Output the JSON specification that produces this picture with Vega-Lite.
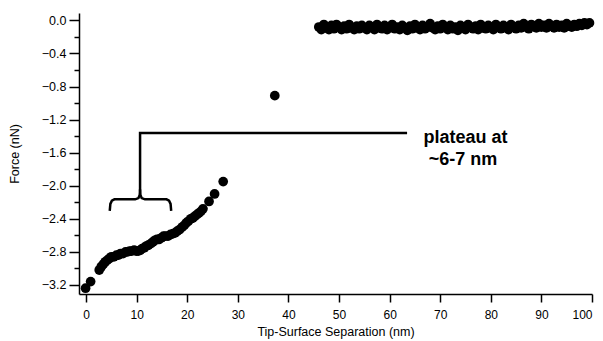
{
  "$schema": "https://vega.github.io/schema/vega-lite/v6.json",
  "autosize": "none",
  "width": 513,
  "height": 281,
  "padding": {"left": 79, "top": 13, "right": 11, "bottom": 47},
  "background": "white",
  "config": {
    "view": {"stroke": null},
    "font": "Liberation Sans",
    "axis": {
      "domainColor": "black", "tickColor": "black", "labelColor": "black", "titleColor": "black",
      "domainWidth": 1.5, "tickWidth": 1.5, "grid": false,
      "labelFont": "Liberation Sans", "titleFont": "Liberation Sans", "titleFontWeight": "normal"
    }
  },
  "datasets": {
    "pts": [
      {"x": -0.1, "y": -3.24}, {"x": 0.9, "y": -3.16}, {"x": 2.6, "y": -3.02}, {"x": 3.0, "y": -2.98},
      {"x": 3.4, "y": -2.95}, {"x": 3.8, "y": -2.92}, {"x": 4.2, "y": -2.9}, {"x": 4.6, "y": -2.88},
      {"x": 5.0, "y": -2.86}, {"x": 5.5, "y": -2.86}, {"x": 6.0, "y": -2.84}, {"x": 6.4, "y": -2.84},
      {"x": 6.8, "y": -2.82}, {"x": 7.3, "y": -2.82}, {"x": 7.8, "y": -2.8}, {"x": 8.2, "y": -2.8},
      {"x": 8.6, "y": -2.79}, {"x": 9.0, "y": -2.79}, {"x": 9.5, "y": -2.78}, {"x": 9.9, "y": -2.79},
      {"x": 10.3, "y": -2.79}, {"x": 10.7, "y": -2.78}, {"x": 11.1, "y": -2.76}, {"x": 11.5, "y": -2.75},
      {"x": 11.9, "y": -2.73}, {"x": 12.3, "y": -2.72}, {"x": 12.8, "y": -2.7}, {"x": 13.2, "y": -2.68},
      {"x": 13.6, "y": -2.66}, {"x": 14.0, "y": -2.65}, {"x": 14.4, "y": -2.65}, {"x": 14.9, "y": -2.63},
      {"x": 15.3, "y": -2.61}, {"x": 15.7, "y": -2.61}, {"x": 16.2, "y": -2.61}, {"x": 16.7, "y": -2.59},
      {"x": 17.2, "y": -2.58}, {"x": 17.6, "y": -2.57}, {"x": 18.0, "y": -2.55}, {"x": 18.5, "y": -2.53},
      {"x": 19.0, "y": -2.5}, {"x": 19.4, "y": -2.48}, {"x": 19.8, "y": -2.45}, {"x": 20.2, "y": -2.43},
      {"x": 20.7, "y": -2.4}, {"x": 21.1, "y": -2.39}, {"x": 21.5, "y": -2.37}, {"x": 21.9, "y": -2.35},
      {"x": 22.3, "y": -2.33}, {"x": 22.7, "y": -2.31}, {"x": 23.1, "y": -2.28}, {"x": 24.3, "y": -2.19},
      {"x": 25.4, "y": -2.1}, {"x": 27.1, "y": -1.95}, {"x": 37.3, "y": -0.91},
      {"x": 46.0, "y": -0.08}, {"x": 46.5, "y": -0.11}, {"x": 47.0, "y": -0.05}, {"x": 47.5, "y": -0.09},
      {"x": 48.0, "y": -0.11}, {"x": 48.5, "y": -0.06}, {"x": 49.0, "y": -0.1}, {"x": 49.5, "y": -0.05},
      {"x": 50.0, "y": -0.08}, {"x": 50.5, "y": -0.11}, {"x": 51.0, "y": -0.07}, {"x": 51.5, "y": -0.1},
      {"x": 52.0, "y": -0.05}, {"x": 52.5, "y": -0.09}, {"x": 53.0, "y": -0.11}, {"x": 53.5, "y": -0.07},
      {"x": 54.0, "y": -0.1}, {"x": 54.5, "y": -0.06}, {"x": 55.0, "y": -0.09}, {"x": 55.5, "y": -0.11},
      {"x": 56.0, "y": -0.06}, {"x": 56.5, "y": -0.08}, {"x": 57.0, "y": -0.11}, {"x": 57.5, "y": -0.05},
      {"x": 58.0, "y": -0.09}, {"x": 58.5, "y": -0.1}, {"x": 59.0, "y": -0.06}, {"x": 59.5, "y": -0.11},
      {"x": 60.0, "y": -0.08}, {"x": 60.5, "y": -0.05}, {"x": 61.0, "y": -0.1}, {"x": 61.5, "y": -0.08},
      {"x": 62.0, "y": -0.11}, {"x": 62.5, "y": -0.06}, {"x": 63.0, "y": -0.09}, {"x": 63.5, "y": -0.12},
      {"x": 64.0, "y": -0.07}, {"x": 64.5, "y": -0.1}, {"x": 65.0, "y": -0.05}, {"x": 65.5, "y": -0.09},
      {"x": 66.0, "y": -0.11}, {"x": 66.5, "y": -0.06}, {"x": 67.0, "y": -0.1}, {"x": 67.5, "y": -0.08},
      {"x": 68.0, "y": -0.04}, {"x": 68.5, "y": -0.09}, {"x": 69.0, "y": -0.11}, {"x": 69.5, "y": -0.07},
      {"x": 70.0, "y": -0.1}, {"x": 70.5, "y": -0.05}, {"x": 71.0, "y": -0.08}, {"x": 71.5, "y": -0.11},
      {"x": 72.0, "y": -0.06}, {"x": 72.5, "y": -0.1}, {"x": 73.0, "y": -0.08}, {"x": 73.5, "y": -0.12},
      {"x": 74.0, "y": -0.06}, {"x": 74.5, "y": -0.09}, {"x": 75.0, "y": -0.11}, {"x": 75.5, "y": -0.05},
      {"x": 76.0, "y": -0.08}, {"x": 76.5, "y": -0.1}, {"x": 77.0, "y": -0.07}, {"x": 77.5, "y": -0.11},
      {"x": 78.0, "y": -0.05}, {"x": 78.5, "y": -0.09}, {"x": 79.0, "y": -0.1}, {"x": 79.5, "y": -0.06},
      {"x": 80.0, "y": -0.09}, {"x": 80.5, "y": -0.11}, {"x": 81.0, "y": -0.05}, {"x": 81.5, "y": -0.08},
      {"x": 82.0, "y": -0.1}, {"x": 82.5, "y": -0.06}, {"x": 83.0, "y": -0.09}, {"x": 83.5, "y": -0.11},
      {"x": 84.0, "y": -0.05}, {"x": 84.5, "y": -0.08}, {"x": 85.0, "y": -0.1}, {"x": 85.5, "y": -0.06},
      {"x": 86.0, "y": -0.09}, {"x": 86.5, "y": -0.04}, {"x": 87.0, "y": -0.08}, {"x": 87.5, "y": -0.1},
      {"x": 88.0, "y": -0.05}, {"x": 88.5, "y": -0.07}, {"x": 89.0, "y": -0.09}, {"x": 89.5, "y": -0.04},
      {"x": 90.0, "y": -0.08}, {"x": 90.5, "y": -0.06}, {"x": 91.0, "y": -0.09}, {"x": 91.5, "y": -0.04},
      {"x": 92.0, "y": -0.07}, {"x": 92.5, "y": -0.09}, {"x": 93.0, "y": -0.05}, {"x": 93.5, "y": -0.08},
      {"x": 94.0, "y": -0.06}, {"x": 94.5, "y": -0.09}, {"x": 95.0, "y": -0.04}, {"x": 95.5, "y": -0.07},
      {"x": 96.0, "y": -0.08}, {"x": 96.5, "y": -0.05}, {"x": 97.0, "y": -0.07}, {"x": 97.5, "y": -0.04},
      {"x": 98.0, "y": -0.06}, {"x": 98.5, "y": -0.03}, {"x": 99.0, "y": -0.05}, {"x": 99.5, "y": -0.03}
    ],
    "brace": [
      {"seg": "a", "o": 1, "x": 4.7, "y": -2.29}, {"seg": "a", "o": 2, "x": 4.8, "y": -2.22},
      {"seg": "a", "o": 3, "x": 5.1, "y": -2.18}, {"seg": "a", "o": 4, "x": 5.6, "y": -2.165},
      {"seg": "a", "o": 5, "x": 9.7, "y": -2.165}, {"seg": "a", "o": 6, "x": 10.35, "y": -2.15},
      {"seg": "a", "o": 7, "x": 10.6, "y": -2.11}, {"seg": "a", "o": 8, "x": 10.67, "y": -2.06},
      {"seg": "a", "o": 9, "x": 10.67, "y": -1.363}, {"seg": "a", "o": 10, "x": 63.2, "y": -1.363},
      {"seg": "b", "o": 1, "x": 10.67, "y": -2.06}, {"seg": "b", "o": 2, "x": 10.74, "y": -2.11},
      {"seg": "b", "o": 3, "x": 10.99, "y": -2.15}, {"seg": "b", "o": 4, "x": 11.64, "y": -2.165},
      {"seg": "b", "o": 5, "x": 15.9, "y": -2.165}, {"seg": "b", "o": 6, "x": 16.4, "y": -2.18},
      {"seg": "b", "o": 7, "x": 16.7, "y": -2.22}, {"seg": "b", "o": 8, "x": 16.8, "y": -2.29}
    ],
    "labels": [
      {"x": 75.0, "y": -1.42, "t": "plateau at"},
      {"x": 74.5, "y": -1.69, "t": "~6-7 nm"}
    ]
  },
  "layer": [
    {
      "data": {"name": "pts"},
      "mark": {"type": "circle", "color": "black", "opacity": 1, "size": 95},
      "encoding": {
        "x": {
          "field": "x", "type": "quantitative",
          "scale": {"domain": [-1.4, 100], "nice": false, "zero": false},
          "axis": {"values": [0, 10, 20, 30, 40, 50, 60, 70, 80, 90, 100], "tickSize": 8, "labelPadding": 7,
                   "labelFontSize": 12, "titleFontSize": 12.5, "titlePadding": 5,
                   "title": "Tip-Surface Separation (nm)"}
        },
        "y": {
          "field": "y", "type": "quantitative",
          "scale": {"domain": [-3.31, 0.09], "nice": false, "zero": false},
          "axis": {"values": [0, -0.4, -0.8, -1.2, -1.6, -2.0, -2.4, -2.8, -3.2], "format": ".1f",
                   "tickSize": 10, "labelPadding": 3, "labelFontSize": 12.5, "titleFontSize": 12.5,
                   "titlePadding": 20, "title": "Force (nN)"}
        }
      }
    },
    {
      "data": {"name": "brace"},
      "mark": {"type": "line", "color": "black", "strokeWidth": 2.5, "strokeCap": "square"},
      "encoding": {
        "x": {"field": "x", "type": "quantitative"},
        "y": {
          "field": "y", "type": "quantitative",
          "axis": {"orient": "left", "values": [-0.2, -0.6, -1.0, -1.4, -1.8, -2.2, -2.6, -3.0],
                   "tickSize": 5, "labels": false, "domain": false, "title": null}
        },
        "detail": {"field": "seg"},
        "order": {"field": "o", "type": "quantitative"}
      }
    },
    {
      "data": {"name": "labels"},
      "mark": {"type": "text", "font": "Liberation Sans", "fontWeight": "bold", "fontSize": 18,
               "color": "black", "align": "center", "baseline": "middle"},
      "encoding": {
        "x": {"field": "x", "type": "quantitative"},
        "y": {"field": "y", "type": "quantitative", "axis": null},
        "text": {"field": "t"}
      }
    }
  ],
  "resolve": {"axis": {"y": "independent"}}
}
